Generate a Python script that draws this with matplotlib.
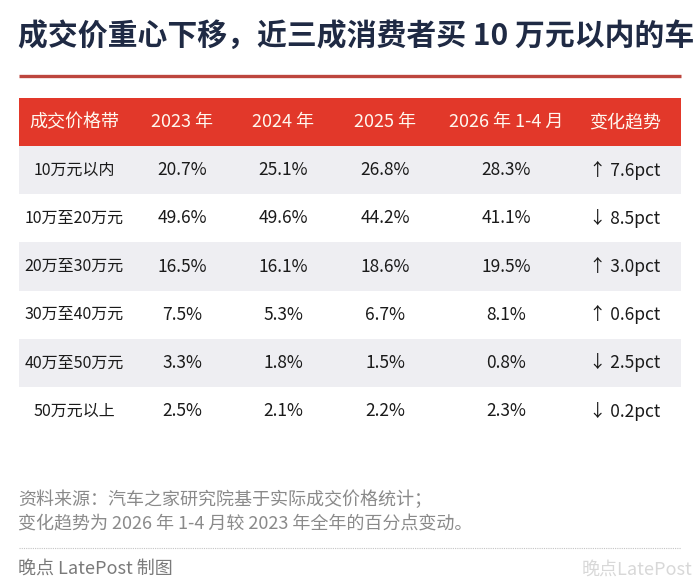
import matplotlib
matplotlib.use("Agg")
import matplotlib.pyplot as plt
import numpy as np

plt.rcParams['font.family'] = ['Noto Sans CJK SC', 'DejaVu Sans']

# data
title = "成交价重心下移，近三成消费者买 10 万元以内的车"
headers = ["成交价格带", "2023 年", "2024 年", "2025 年", "2026 年 1-4 月", "变化趋势"]
price_bands = ["10万元以内", "10万至20万元", "20万至30万元", "30万至40万元", "40万至50万元", "50万元以上"]
share_2023 = [20.7, 49.6, 16.5, 7.5, 3.3, 2.5]
share_2024 = [25.1, 49.6, 16.1, 5.3, 1.8, 2.1]
share_2025 = [26.8, 44.2, 18.6, 6.7, 1.5, 2.2]
share_2026 = [28.3, 41.1, 19.5, 8.1, 0.8, 2.3]
change_pct = [7.6, -8.5, 3.0, 0.6, -2.5, -0.2]
source_lines = ["资料来源：汽车之家研究院基于实际成交价格统计；",
                "变化趋势为 2026 年 1-4 月较 2023 年全年的百分点变动。"]
credit = "晚点 LatePost 制图"

# layout in pixels
W, H = 700, 588
col_x = [74, 182, 283, 385, 506, 625]
left, right = 19, 681
header_top, header_h = 98, 48
row_h = 48.2

fig = plt.figure(figsize=(W / 100, H / 100), dpi=100)
ax = fig.add_axes([0, 0, 1, 1])
ax.set_xlim(0, W)
ax.set_ylim(H, 0)
ax.axis("off")

ax.text(18, 36, title, fontsize=21.5, fontweight="bold", color="#1f2a44", va="center", ha="left")
ax.plot([left, right], [76, 76], color="#bd463e", lw=2.4, solid_capstyle="butt")

# header bar
ax.barh(header_top + header_h / 2, right - left, height=header_h, left=left, color="#e2382a")
for x, h in zip(col_x, headers):
    ax.text(x, header_top + header_h / 2, h, fontsize=13, color="#fff8f0", ha="center", va="center")

# rows
first_row = header_top + header_h
columns = [share_2023, share_2024, share_2025, share_2026]
for i, band in enumerate(price_bands):
    yc = first_row + (i + 0.5) * row_h
    if i % 2 == 0:
        ax.barh(yc, right - left, height=row_h, left=left, color="#eeeef2")
    ax.text(col_x[0], yc, band, fontsize=11.5, color="#1a1a1a", ha="center", va="center")
    for j, col in enumerate(columns):
        ax.text(col_x[j + 1], yc, f"{col[i]:.1f}%", fontsize=12.5, color="#1a1a1a", ha="center", va="center")
    arrow = "↑" if change_pct[i] > 0 else "↓"
    ax.text(col_x[5], yc, f"{arrow} {abs(change_pct[i]):.1f}pct", fontsize=12.5, color="#1a1a1a",
            ha="center", va="center")

# footer
ax.text(18, 500, source_lines[0], fontsize=13, color="#8a8a8a", ha="left", va="center")
ax.text(18, 524, source_lines[1], fontsize=13, color="#8a8a8a", ha="left", va="center")
ax.plot([left, right], [548, 548], color="#c4c4c4", lw=0.8, linestyle=(0, (1, 1)))
ax.text(18, 569, credit, fontsize=13, color="#7a7a7a", ha="left", va="center")
ax.text(692, 570, "晚点LatePost", fontsize=13, color="#d8d8d8", ha="right", va="center")

fig.savefig("out.png", dpi=100)
